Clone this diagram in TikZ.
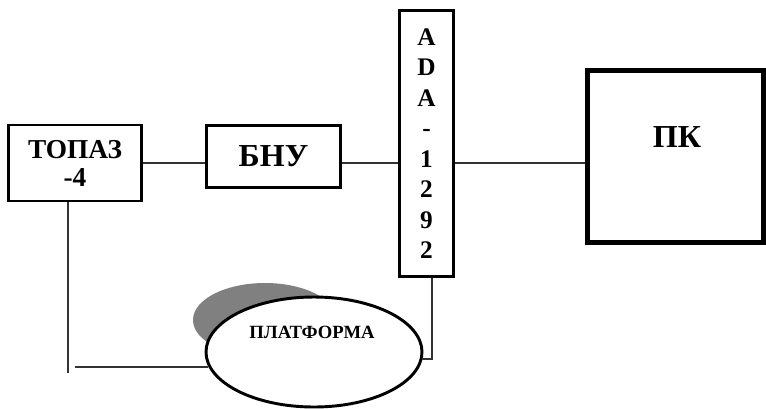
\documentclass[tikz,border=0pt]{standalone}
\usepackage{fontspec}
\setmainfont{Liberation Serif}
\usetikzlibrary{shapes.geometric}

\begin{document}
\begin{tikzpicture}[x=0.75pt,y=-0.75pt,
    blok/.style={draw,line width=2.2pt,inner sep=0pt,fill=white},
    svyaz/.style={line width=1pt,black!80}]
    \useasboundingbox (0,0) rectangle (766,408);
    \node[blok,minimum width=100pt,minimum height=57pt,align=center,
          font=\bfseries\fontsize{20.5}{21}\selectfont] (topaz) at (75,163) {ТОПАЗ\\-4};
    \node[blok,minimum width=100pt,minimum height=47pt,
          font=\bfseries\fontsize{24}{25}\selectfont] (bnu) at (273.5,156.5) {БНУ};
    \node[blok,minimum width=41pt,minimum height=200pt,align=center,
          font=\bfseries\fontsize{19}{22.9}\selectfont] (ada) at (426.5,143.5) {A\\D\\A\\-\\1\\2\\9\\2};
    \node[blok,line width=3.7pt,minimum width=132pt,minimum height=129pt] (pk) at (675.5,156.5) {};
    \node[font=\bfseries\fontsize{24}{25}\selectfont] (pktxt) at (677,137) {ПК};
    % platforma
    \node[ellipse,fill=black!50,minimum width=108pt,minimum height=55.5pt] (ten) at (265,320) {};
    \node[blok,ellipse,minimum width=162pt,minimum height=82.5pt] (plat) at (314,352) {};
    \node[font=\bfseries\fontsize{14}{15}\selectfont] (plattxt) at (312,332) {ПЛАТФОРМА};
    % svyazi
    \draw[svyaz] (topaz.east) -- (topaz.east -| bnu.west);
    \draw[svyaz] (bnu.east |- topaz.east) -- (ada.west |- topaz.east);
    \draw[svyaz] (ada.east |- topaz.east) -- (pk.west |- topaz.east);
    \coordinate (lv) at (68,373);
    \coordinate (lh) at (75,367);
    \coordinate (pv) at (432,359);
    \draw[svyaz] (lv |- topaz.south) -- (lv);
    \draw[svyaz] (lh) -- (lh -| plat.188);
    \draw[svyaz] (pv |- ada.south) -- (pv) -- (pv -| plat.356);
\end{tikzpicture}
\end{document}
